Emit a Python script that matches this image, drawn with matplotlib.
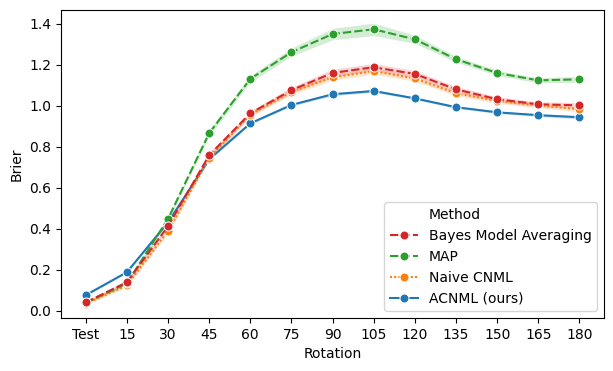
import matplotlib
matplotlib.use("Agg")
import matplotlib.pyplot as plt
from matplotlib.lines import Line2D
import numpy as np

# rotation angles (x categories)
rotations = ['Test', '15', '30', '45', '60', '75', '90', '105', '120', '135', '150', '165', '180']

# mean Brier score per method
bma   = [0.042, 0.140, 0.413, 0.759, 0.964, 1.077, 1.161, 1.189, 1.156, 1.081, 1.033, 1.008, 1.003]
map_  = [0.040, 0.135, 0.449, 0.867, 1.132, 1.262, 1.351, 1.374, 1.325, 1.228, 1.161, 1.125, 1.130]
naive = [0.036, 0.125, 0.390, 0.745, 0.958, 1.068, 1.140, 1.170, 1.134, 1.062, 1.025, 1.003, 0.984]
acnml = [0.077, 0.189, 0.432, 0.740, 0.915, 1.005, 1.057, 1.073, 1.037, 0.994, 0.969, 0.955, 0.945]

# half-width of the confidence band per method
bma_err   = [0.006, 0.010, 0.012, 0.012, 0.012, 0.014, 0.018, 0.018, 0.016, 0.014, 0.012, 0.012, 0.014]
map_err   = [0.006, 0.010, 0.012, 0.014, 0.016, 0.020, 0.028, 0.030, 0.020, 0.014, 0.012, 0.012, 0.014]
naive_err = [0.006, 0.010, 0.012, 0.012, 0.012, 0.013, 0.015, 0.015, 0.014, 0.012, 0.012, 0.012, 0.012]
acnml_err = [0.004, 0.005, 0.005, 0.006, 0.006, 0.006, 0.007, 0.007, 0.006, 0.006, 0.006, 0.007, 0.008]

series = [
    ('Bayes Model Averaging', bma,   bma_err,   '#d62728', (0, (4, 1.5))),
    ('MAP',                   map_,  map_err,   '#2ca02c', (0, (4, 1.5))),
    ('Naive CNML',            naive, naive_err, '#ff7f0e', (0, (1, 1))),
    ('ACNML (ours)',          acnml, acnml_err, '#1f77b4', '-'),
]

fig = plt.figure(figsize=(6.13, 3.71), dpi=100)
ax = fig.add_axes([0.0995, 0.143, 0.886, 0.830])

x = np.arange(len(rotations))
lines = {}
# draw in reverse so Bayes Model Averaging ends up on top
for name, vals, err, color, ls in reversed(series):
    vals = np.array(vals)
    err = np.array(err)
    ax.fill_between(x, vals - err, vals + err, color=color, alpha=0.2, linewidth=0)
    ln, = ax.plot(x, vals, color=color, linestyle=ls, linewidth=1.5, marker='o',
                  markersize=6.5, markeredgecolor='white', markeredgewidth=0.75, label=name)
    lines[name] = ln

handles = [Line2D([], [], linestyle='none', marker='', label='Method')]
handles += [lines[s[0]] for s in series]

ax.set_xticks(x)
ax.set_xticklabels(rotations)
ax.set_xlim(-0.6, 12.6)
ax.set_ylim(-0.034, 1.468)
ax.set_yticks([0.0, 0.2, 0.4, 0.6, 0.8, 1.0, 1.2, 1.4])
ax.set_xlabel('Rotation')
ax.set_ylabel('Brier')

ax.legend(handles=handles, loc='lower right')

fig.savefig('out.png', dpi=100)
